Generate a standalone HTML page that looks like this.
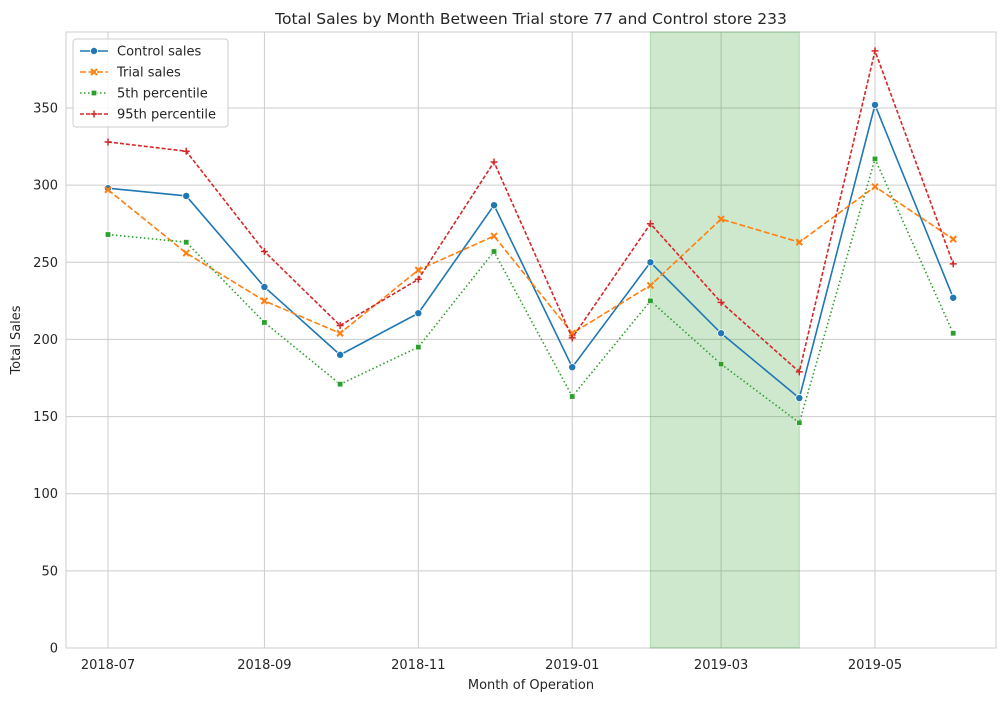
<!DOCTYPE html>
<html><head><meta charset="utf-8"><style>
body{margin:0;background:#fff;font-family:"Liberation Sans","DejaVu Sans",sans-serif;}
svg text{font-family:"DejaVu Sans","Liberation Sans",sans-serif;}
</style></head><body>
<svg id="chart" width="1005" height="701" xmlns="http://www.w3.org/2000/svg"></svg>
<script>
const months=["2018-07-01","2018-08-01","2018-09-01","2018-10-01","2018-11-01","2018-12-01","2019-01-01","2019-02-01","2019-03-01","2019-04-01","2019-05-01","2019-06-01"];
const controlSales=[298,293,234,190,217,287,182,250,204,162,352,227];
const trialSales=[297,256,225,204,245,267,204,235,278,263,299,265];
const pct5=[268,263,211,171,195,257,163,225,184,146,317,204];
const pct95=[328,322,257,209,239,315,201,275,224,179,387,249];
const yTicks=[0,50,100,150,200,250,300,350];
const xTicks=["2018-07","2018-09","2018-11","2019-01","2019-03","2019-05"];
const trialPeriod=["2019-02-01","2019-04-01"];

const svg=document.getElementById('chart');
const NS="http://www.w3.org/2000/svg";
const L=66,R=996,T=32,B=648;
const t0=Date.parse("2018-07-01");
function xs(d){return 108+(Date.parse(d)-t0)/86400000*2.523;}
function ys(v){return B-v*(540/350);}
function mk(tag,attrs,parent){const e=document.createElementNS(NS,tag);for(const k in attrs)e.setAttribute(k,attrs[k]);(parent||svg).appendChild(e);return e;}

const bg=mk('rect',{x:L,y:T,width:R-L,height:B-T,fill:'#fff',stroke:'#ccc'});



yTicks.forEach(v=>{
  const g=mk('line',{x1:L,x2:R,y1:ys(v),y2:ys(v),stroke:'#ccc','stroke-width':1});
  
  
  const t=mk('text',{x:L-8,y:ys(v)+4.5,'text-anchor':'end','font-size':13,fill:'#262626'});
  t.textContent=v;
  
  
});
xTicks.forEach(m=>{
  const x=xs(m+"-01");
  const g=mk('line',{x1:x,x2:x,y1:T,y2:B,stroke:'#ccc','stroke-width':1});
  
  
  const t=mk('text',{x:x,y:B+21,'text-anchor':'middle','font-size':13,fill:'#262626'});
  t.textContent=m;
  
  
});

const sh=mk('rect',{x:xs(trialPeriod[0]),y:T,width:xs(trialPeriod[1])-xs(trialPeriod[0]),height:B-T,fill:'rgba(44,160,44,0.24)',stroke:'rgba(44,160,44,0.3)'});



function marker(type,x,y,c,parent){
  if(type==='o') return mk('circle',{cx:x,cy:y,r:3.6,fill:c,stroke:'#fff','stroke-width':0.8},parent);
  if(type==='s') return mk('rect',{x:x-2.7,y:y-2.7,width:5.4,height:5.4,fill:c,stroke:'#fff','stroke-width':0.6},parent);
  if(type==='x') return mk('path',{d:`M${x-3},${y-3}L${x+3},${y+3}M${x-3},${y+3}L${x+3},${y-3}`,stroke:c,'stroke-width':2},parent);
  return mk('path',{d:`M${x-3.5},${y}L${x+3.5},${y}M${x},${y-3.5}L${x},${y+3.5}`,stroke:c,'stroke-width':1.5},parent);
}
const series=[
  {name:'Control sales',vals:controlSales,c:'#1f77b4',dash:'',m:'o',id:'control'},
  {name:'Trial sales',vals:trialSales,c:'#ff7f0e',dash:'6,2.5',m:'x',id:'trial'},
  {name:'5th percentile',vals:pct5,c:'#2ca02c',dash:'1.5,2.5',m:'s',id:'pct5'},
  {name:'95th percentile',vals:pct95,c:'#d62728',dash:'4,2',m:'+',id:'pct95'}
];
series.forEach(s=>{
  const g=mk('g',{});
  
  
  const d=s.vals.map((v,i)=>(i?'L':'M')+xs(months[i])+','+ys(v)).join('');
  const p=mk('path',{d:d,fill:'none',stroke:s.c,'stroke-width':1.6,'stroke-dasharray':s.dash},g);
  
  
  s.vals.forEach((v,i)=>{
    const m=marker(s.m,xs(months[i]),ys(v),s.c,g);
    
    
  });
});

const lg=mk('g',{});


mk('rect',{x:73,y:39,width:155,height:88,rx:3,fill:'rgba(255,255,255,0.85)',stroke:'#ccc'},lg);
series.forEach((s,i)=>{
  const y=51+i*21;
  const e=mk('g',{},lg);
  
  
  mk('line',{x1:80,x2:108,y1:y,y2:y,stroke:s.c,'stroke-width':1.6,'stroke-dasharray':s.dash},e);
  marker(s.m,94,y,s.c,e);
  const t=mk('text',{x:117,y:y+4.5,'font-size':13,fill:'#262626'},e);
  t.textContent=s.name;
});

const title=mk('text',{x:531,y:24,'text-anchor':'middle','font-size':15.5,fill:'#262626'});
title.textContent='Total Sales by Month Between Trial store 77 and Control store 233';


const xl=mk('text',{x:531,y:689,'text-anchor':'middle','font-size':13,fill:'#262626'});
xl.textContent='Month of Operation';


const yl=mk('text',{x:20,y:340,'text-anchor':'middle','font-size':13,fill:'#262626',transform:'rotate(-90 20 340)'});
yl.textContent='Total Sales';


</script>
</body></html>
